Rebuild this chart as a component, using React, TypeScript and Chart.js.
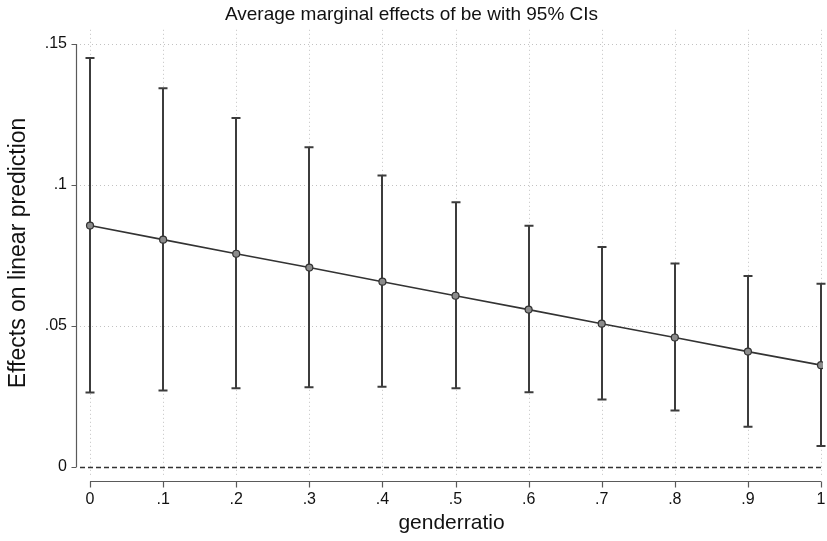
import React, { useEffect, useRef } from "react";
import { Chart, registerables } from "chart.js";

Chart.register(...registerables);

// ---- data ----
const genderratio = [0, 0.1, 0.2, 0.3, 0.4, 0.5, 0.6, 0.7, 0.8, 0.9, 1];
const xTickLabels = ["0", ".1", ".2", ".3", ".4", ".5", ".6", ".7", ".8", ".9", "1"];
const yTickValues = [0, 0.05, 0.1, 0.15];
const yTickLabels = ["0", ".05", ".1", ".15"];
const marginalEffect = [0.0856, 0.0806, 0.0756, 0.0707, 0.0657, 0.0607, 0.0558, 0.0508, 0.0459, 0.0409, 0.0361];
const ciLower = [0.0264, 0.0271, 0.0279, 0.0283, 0.0284, 0.0279, 0.0265, 0.0239, 0.02, 0.0143, 0.0074];
const ciUpper = [0.145, 0.1343, 0.1237, 0.1134, 0.1033, 0.0939, 0.0855, 0.078, 0.0721, 0.0677, 0.065];

const titleText = "Average marginal effects of be with 95% CIs";
const yTitleText = "Effects on linear prediction";
const xTitleText = "genderratio";

const FONT = "'Liberation Sans', Arial, Helvetica, sans-serif";

const stataPlugin = {
  id: "stataDecor",
  beforeDatasetsDraw(chart: any) {
    const { ctx, chartArea: a, scales } = chart;
    const x = scales.x;
    const y = scales.y;
    ctx.save();
    // dotted grid
    ctx.strokeStyle = "#c2c2c2";
    ctx.lineWidth = 1;
    ctx.setLineDash([1, 3]);
    genderratio.forEach((v) => {
      const px = Math.round(x.getPixelForValue(v)) + 0.5;
      ctx.beginPath();
      ctx.moveTo(px, a.top);
      ctx.lineTo(px, a.bottom);
      ctx.stroke();
    });
    yTickValues.forEach((v) => {
      if (v === 0) return;
      const py = Math.round(y.getPixelForValue(v)) + 0.5;
      ctx.beginPath();
      ctx.moveTo(a.left, py);
      ctx.lineTo(a.right, py);
      ctx.stroke();
    });
    // zero reference line (dashed)
    ctx.strokeStyle = "#333333";
    ctx.lineWidth = 1.3;
    ctx.setLineDash([5, 3]);
    const pz = Math.round(y.getPixelForValue(0)) + 0.5;
    ctx.beginPath();
    ctx.moveTo(a.left, pz);
    ctx.lineTo(a.right, pz);
    ctx.stroke();
    // CI bars
    ctx.setLineDash([]);
    ctx.strokeStyle = "#3c3c3c";
    ctx.lineWidth = 2;
    const cap = 4.5;
    genderratio.forEach((v, i) => {
      const px = Math.round(x.getPixelForValue(v));
      const lo = y.getPixelForValue(ciLower[i]);
      const hi = y.getPixelForValue(ciUpper[i]);
      ctx.beginPath();
      ctx.moveTo(px, lo);
      ctx.lineTo(px, hi);
      ctx.moveTo(px - cap, lo);
      ctx.lineTo(px + cap, lo);
      ctx.moveTo(px - cap, hi);
      ctx.lineTo(px + cap, hi);
      ctx.stroke();
    });
    ctx.restore();
  },
  afterDraw(chart: any) {
    const { ctx, chartArea: a, scales } = chart;
    const x = scales.x;
    const y = scales.y;
    ctx.save();
    ctx.strokeStyle = "#5a5a5a";
    ctx.lineWidth = 1.2;
    // y axis
    const ax = a.left - 3.5;
    const yTop = y.getPixelForValue(yTickValues[yTickValues.length - 1]);
    const yBot = y.getPixelForValue(yTickValues[0]);
    ctx.beginPath();
    ctx.moveTo(ax, yTop);
    ctx.lineTo(ax, yBot);
    yTickValues.forEach((v) => {
      const py = Math.round(y.getPixelForValue(v)) + 0.5;
      ctx.moveTo(ax, py);
      ctx.lineTo(ax - 5, py);
    });
    ctx.stroke();
    // x axis
    const ay = a.bottom + 5.5;
    const xL = x.getPixelForValue(genderratio[0]);
    const xR = x.getPixelForValue(genderratio[genderratio.length - 1]);
    ctx.beginPath();
    ctx.moveTo(xL, ay);
    ctx.lineTo(xR, ay);
    genderratio.forEach((v) => {
      const px = Math.round(x.getPixelForValue(v)) + 0.5;
      ctx.moveTo(px, ay);
      ctx.lineTo(px, ay + 6);
    });
    ctx.stroke();
    ctx.restore();
  },
};

export default function App() {
  const ref = useRef<HTMLCanvasElement>(null);
  useEffect(() => {
    document.body.style.margin = "0";
    const canvas = ref.current;
    if (!canvas) return;
    const chart = new Chart(canvas, {
      type: "line",
      data: {
        datasets: [
          {
            label: "Marginal effect",
            data: genderratio.map((g, i) => ({ x: g, y: marginalEffect[i] })),
            borderColor: "#333333",
            borderWidth: 1.6,
            pointRadius: 3.5,
            pointBackgroundColor: "#8c8c8c",
            pointBorderColor: "#333333",
            pointBorderWidth: 1.2,
            tension: 0,
            fill: false,
          },
        ],
      },
      options: {
        responsive: false,
        animation: false,
        devicePixelRatio: 1,
        events: [],
        layout: { padding: { left: 0, right: 4, top: 0, bottom: 0 }, autoPadding: false },
        plugins: {
          legend: { display: false },
          tooltip: { enabled: false },
          title: {
            display: true,
            text: titleText,
            color: "#111111",
            font: { family: FONT, size: 19, weight: "normal" },
            padding: { top: 3, bottom: 4 },
          },
        },
        scales: {
          x: {
            type: "linear",
            min: -0.0137,
            max: 1.0027,
            afterBuildTicks: (scale: any) => {
              scale.ticks = genderratio.map((v) => ({ value: v }));
            },
            afterFit: (scale: any) => {
              scale.height = 65;
              scale.paddingLeft = 0;
              scale.paddingRight = 0;
            },
            grid: { display: false, drawTicks: false },
            border: { display: false },
            ticks: {
              autoSkip: false,
              maxRotation: 0,
              padding: 14,
              color: "#111111",
              font: { family: FONT, size: 16 },
              callback: (_v: any, i: number) => xTickLabels[i],
            },
            title: {
              display: true,
              text: xTitleText,
              color: "#111111",
              font: { family: FONT, size: 21 },
              padding: { top: 0, bottom: 5 },
            },
          },
          y: {
            type: "linear",
            min: -0.0032,
            max: 0.155,
            afterBuildTicks: (scale: any) => {
              scale.ticks = yTickValues.map((v) => ({ value: v }));
            },
            afterFit: (scale: any) => {
              scale.width = 80;
              scale.paddingTop = 0;
              scale.paddingBottom = 0;
            },
            grid: { display: false, drawTicks: false },
            border: { display: false },
            ticks: {
              autoSkip: false,
              padding: 13,
              color: "#111111",
              font: { family: FONT, size: 16 },
              callback: (_v: any, i: number) => yTickLabels[i],
            },
            title: {
              display: true,
              text: yTitleText,
              color: "#111111",
              font: { family: FONT, size: 23 },
              padding: { top: 5, bottom: 0 },
            },
          },
        },
      },
      plugins: [stataPlugin],
    });
    return () => chart.destroy();
  }, []);
  return (
    <div style={{ width: 827, height: 541 }}>
      <canvas ref={ref} width={827} height={541} style={{ display: "block" }} />
    </div>
  );
}
